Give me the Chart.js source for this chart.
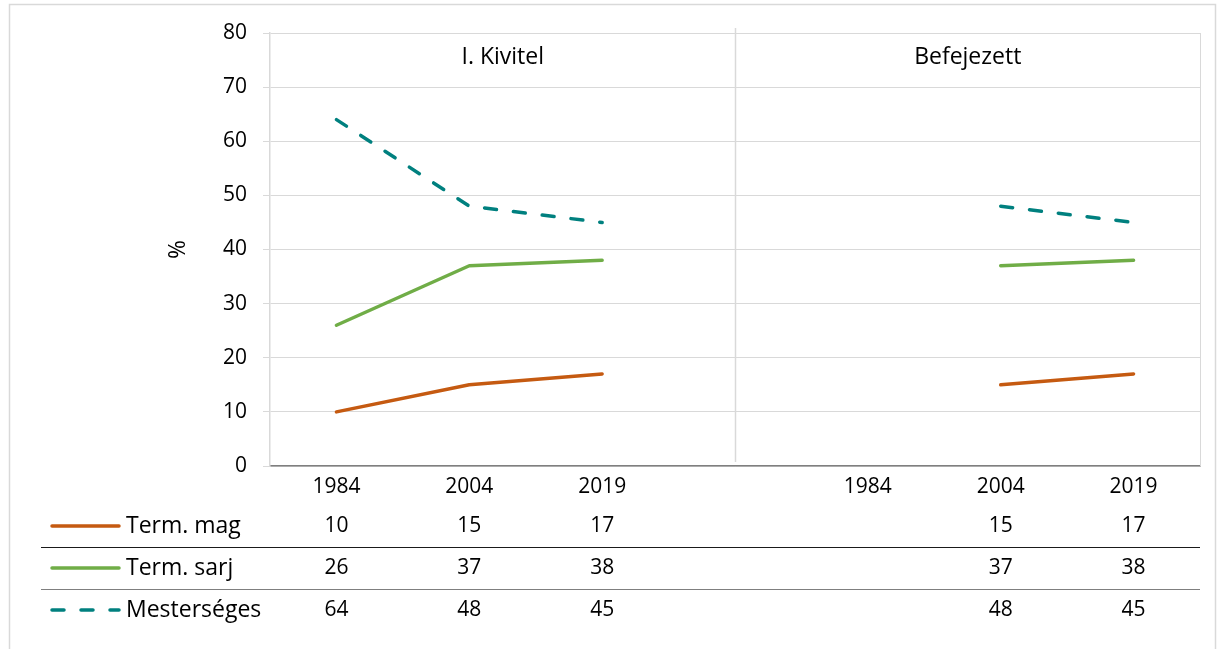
<!DOCTYPE html>
<html>
<head>
<meta charset="utf-8">
<script src="https://cdn.jsdelivr.net/npm/chart.js@4.4.1/dist/chart.umd.min.js"></script>
<style>
  html, body { margin: 0; padding: 0; background: #fff; }
  #wrap { width: 1219px; height: 649px; position: relative; }
</style>
</head>
<body>
<div id="wrap"><canvas id="chart" width="1219" height="649"></canvas></div>
<script>
// ================= DATA =================
const years = ["1984", "2004", "2019", "", "1984", "2004", "2019"];
const panels = ["I. Kivitel", "Befejezett"];
const seriesNames = ["Term. mag", "Term. sarj", "Mesterséges"];
const termMag = [10, 15, 17, null, null, 15, 17];
const termSarj = [26, 37, 38, null, null, 37, 38];
const mesterseges = [64, 48, 45, null, null, 48, 45];
const yMin = 0, yMax = 80, yStep = 10;
const yTitle = "%";

// ================= STYLE =================
const FONT = "'Open Sans', sans-serif";
const FSIZE = 21;      // numbers
const WSIZE = 23;      // words
const colors = ["#C55A11", "#70AD47", "#00807F"];
const dashes = [[], [], [12, 17]];
const grid = "#d9d9d9";

// ================= TABLE + DECOR PLUGIN =================
const extras = {
  id: "extras",
  afterDraw(chart) {
    const ctx = chart.ctx;
    const area = chart.chartArea;
    const x = chart.scales.x;
    const series = [termMag, termSarj, mesterseges];
    ctx.save();

    // outer border
    ctx.strokeStyle = grid;
    ctx.lineWidth = 1.5;
    ctx.strokeRect(9.5, 4.5, 1206, 700);

    // plot right border
    ctx.lineWidth = 1;
    ctx.beginPath();
    ctx.moveTo(area.right + 0.5, area.top);
    ctx.lineTo(area.right + 0.5, area.bottom);
    ctx.stroke();

    // panel divider at the empty category
    const midX = Math.round(x.getPixelForValue(3)) + 0.5;
    ctx.lineWidth = 1.5;
    ctx.beginPath();
    ctx.moveTo(midX, area.top - 5);
    ctx.lineTo(midX, area.bottom - 4);
    ctx.stroke();

    ctx.fillStyle = "#000";
    ctx.textBaseline = "middle";
    ctx.textAlign = "center";

    // panel titles
    ctx.font = WSIZE + "px " + FONT;
    ctx.fillText(panels[0], (area.left + midX) / 2, area.top + 24);
    ctx.fillText(panels[1], (midX + area.right) / 2, area.top + 24);

    // y title
    ctx.save();
    ctx.translate(area.left - 92, (area.top + area.bottom) / 2);
    ctx.rotate(-Math.PI / 2);
    ctx.fillText(yTitle, 0, 0);
    ctx.restore();

    // data table rows
    series.forEach((vals, r) => {
      const y = area.bottom + 60 + r * 42;
      ctx.font = FSIZE + "px " + FONT;
      ctx.textAlign = "center";
      vals.forEach((v, i) => {
        if (v === null) return;
        ctx.fillText(String(v), x.getPixelForValue(i), y);
      });
      // legend key
      ctx.strokeStyle = colors[r];
      ctx.lineWidth = 3.5;
      ctx.lineCap = "round";
      ctx.setLineDash(dashes[r]);
      ctx.beginPath();
      ctx.moveTo(52, y);
      ctx.lineTo(119, y);
      ctx.stroke();
      ctx.setLineDash([]);
      ctx.font = WSIZE + "px " + FONT;
      ctx.textAlign = "left";
      ctx.fillText(seriesNames[r], 126, y);
    });

    // row separators
    ctx.lineCap = "butt";
    ctx.lineWidth = 1.2;
    [["#1a1a1a", 81], ["#7f7f7f", 123]].forEach(([c, dy]) => {
      ctx.strokeStyle = c;
      ctx.beginPath();
      ctx.moveTo(41, area.bottom + dy + 0.5);
      ctx.lineTo(area.right, area.bottom + dy + 0.5);
      ctx.stroke();
    });

    ctx.restore();
  }
};

// ================= CHART =================
const chart = new Chart(document.getElementById("chart"), {
  type: "line",
  data: {
    labels: years,
    datasets: [termMag, termSarj, mesterseges].map((d, i) => ({
      label: seriesNames[i],
      data: d,
      borderColor: colors[i],
      backgroundColor: colors[i],
      borderWidth: 3.5,
      borderDash: dashes[i],
      borderCapStyle: "round",
      borderJoinStyle: "round",
      pointRadius: 0,
      tension: 0,
      spanGaps: false
    }))
  },
  options: {
    responsive: false,
    animation: false,
    devicePixelRatio: 1,
    layout: { padding: { left: 0, right: 19, top: 33, bottom: 0 } },
    plugins: {
      legend: { display: false },
      tooltip: { enabled: false }
    },
    scales: {
      x: {
        type: "category",
        offset: true,
        grid: { display: false, drawTicks: false },
        border: { display: true, color: "#7f7f7f", width: 1.5 },
        ticks: {
          color: "#000",
          font: { family: FONT, size: FSIZE },
          padding: 8,
          maxRotation: 0,
          autoSkip: false
        },
        afterFit: s => { s.height = 183; }
      },
      y: {
        min: yMin,
        max: yMax,
        grid: { color: grid, lineWidth: 1, drawTicks: true, tickLength: 7 },
        border: { display: true, color: grid, width: 1.5 },
        ticks: {
          stepSize: yStep,
          color: "#000",
          padding: 16,
          font: { family: FONT, size: FSIZE }
        },
        afterFit: s => { s.width = 270; }
      }
    }
  },
  plugins: [extras]
});
</script>
</body>
</html>
